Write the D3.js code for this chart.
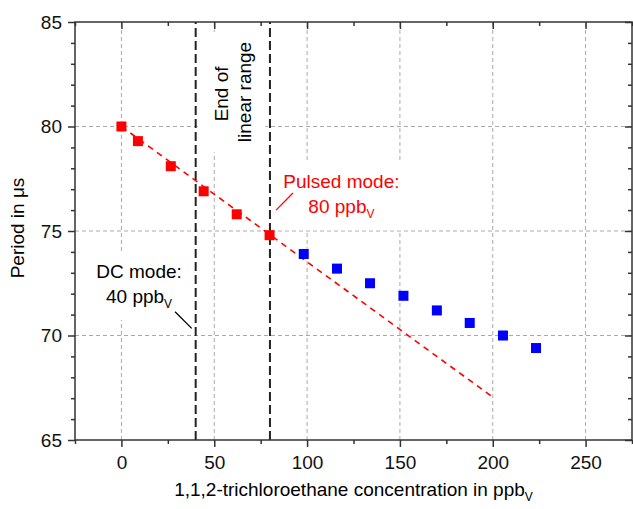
<!DOCTYPE html>
<html>
<head>
<meta charset="utf-8">
<script src="https://cdn.jsdelivr.net/npm/d3@7"></script>
<style>
  body { margin: 0; background: #fff; }
  svg text { font-family: "Liberation Sans", Arial, sans-serif; }
</style>
</head>
<body>
<svg width="633" height="509"></svg>
<script>
// data
pulsedX = [0, 8.9, 26.6, 44.3, 62.1, 79.8]
pulsedY = [80.0, 79.3, 78.1, 76.9, 75.8, 74.8]
satX = [98.2, 116.1, 133.9, 151.9, 169.9, 187.6, 205.5, 223.3]
satY = [73.9, 73.2, 72.5, 71.9, 71.2, 70.6, 70.0, 69.4]
fitX = [0, 200]
fitY = [80.0, 67.05]
limitX = [40, 80]
xTicks = [0, 50, 100, 150, 200, 250]
xMinor = [-25, 25, 75, 125, 175, 225, 275]
yTicks = [65, 70, 75, 80, 85]
yMinor = d3.range(65, 86, 1).filter(v => v % 5 != 0)

let svg = d3.select("svg")
let x = d3.scaleLinear().domain([-25, 275]).range([75, 632])
let y = d3.scaleLinear().domain([65, 85]).range([440, 22])
let font = 19, axisCol = '#333'

// grid
let grid = svg.append('g')
grid.selectAll('.gx').data(xTicks).enter().append('line')
    .attr('x1', d => x(d)).attr('x2', d => x(d)).attr('y1', y(65)).attr('y2', y(85))
grid.selectAll('.gy').data(yTicks.slice(1, -1)).enter().append('line')
    .attr('x1', x(-25)).attr('x2', x(275)).attr('y1', d => y(d)).attr('y2', d => y(d))
grid.selectAll('line').style('stroke', '#aaa').style('stroke-width', 1).style('stroke-dasharray', '4,3')

let boxes = svg.append('g')

// end of linear range markers
svg.selectAll('.limit').data(limitX).enter().append('line')
    .attr('x1', d => x(d)).attr('x2', d => x(d)).attr('y1', y(65)).attr('y2', y(85))
    .style('stroke', '#222').style('stroke-width', 2).style('stroke-dasharray', '9,4')

// linear fit
svg.append('path')
    .attr('d', d3.line().x(d => x(d[0])).y(d => y(d[1]))(d3.zip(fitX, fitY)))
    .style('fill', 'none').style('stroke', '#f00').style('stroke-width', 1.6).style('stroke-dasharray', '6,5')

let sq = 10
svg.selectAll('.pulsed').data(d3.zip(pulsedX, pulsedY)).enter().append('rect')
    .attr('x', d => x(d[0]) - sq / 2).attr('y', d => y(d[1]) - sq / 2)
    .attr('width', sq).attr('height', sq).style('fill', '#f00')
svg.selectAll('.sat').data(d3.zip(satX, satY)).enter().append('rect')
    .attr('x', d => x(d[0]) - sq / 2).attr('y', d => y(d[1]) - sq / 2)
    .attr('width', sq).attr('height', sq).style('fill', '#00f')

// annotations
function sub(t, main, s) {
    t.append('tspan').text(main)
    t.append('tspan').attr('dy', 5).attr('font-size', 12).text(s)
}
let notes = []

let endG = svg.append('g')
endG.append('text').attr('transform', `translate(${x(57.4)},${y(81.56)}) rotate(-90)`)
    .attr('text-anchor', 'middle').attr('font-size', font).text('End of')
endG.append('text').attr('transform', `translate(${x(70.06)},${y(81.65)}) rotate(-90)`)
    .attr('text-anchor', 'middle').attr('font-size', font).text('linear range')
notes.push([endG, 10])

let dcG = svg.append('g')
dcG.append('text').attr('x', x(9.5)).attr('y', y(72.75)).attr('text-anchor', 'middle')
    .attr('font-size', font).text('DC mode:')
sub(dcG.append('text').attr('x', x(9.5)).attr('y', y(72.75) + 25).attr('text-anchor', 'middle')
    .attr('font-size', font), '40 ppb', 'V')
notes.push([dcG, 9])

let puG = svg.append('g').style('fill', '#f00')
puG.append('text').attr('x', x(118.5)).attr('y', y(77.05)).attr('text-anchor', 'middle')
    .attr('font-size', font).text('Pulsed mode:')
sub(puG.append('text').attr('x', x(118.5)).attr('y', y(77.05) + 25).attr('text-anchor', 'middle')
    .attr('font-size', font), '80 ppb', 'V')
notes.push([puG, 9])

notes.forEach(([g, p]) => {
    let b = g.node().getBBox()
    boxes.append('rect').attr('x', b.x - p).attr('y', b.y - p)
        .attr('width', b.width + 2 * p).attr('height', b.height + 2 * p).style('fill', '#fff')
})

svg.append('line').attr('x1', x(28.9)).attr('y1', y(71.14)).attr('x2', x(37.85)).attr('y2', y(70.34))
    .style('stroke', '#000').style('stroke-width', 1.3)
svg.append('line').attr('x1', x(83.3)).attr('y1', y(76.0)).attr('x2', x(92.4)).attr('y2', y(76.82))
    .style('stroke', '#f00').style('stroke-width', 1.3)

// axes
function styleAxis(g) {
    g.select('.domain').remove()
    g.selectAll('line').style('stroke', axisCol).style('stroke-width', 1.5)
    g.selectAll('text').attr('font-size', font).style('fill', '#111')
}
svg.append('g').attr('transform', `translate(0,${y(65)})`)
    .call(d3.axisBottom(x).tickValues(xTicks).tickSize(7).tickPadding(9)).call(styleAxis)
svg.append('g').attr('transform', `translate(0,${y(65)})`)
    .call(d3.axisBottom(x).tickValues(xMinor).tickSize(4).tickFormat('')).call(styleAxis)
svg.append('g').attr('transform', `translate(0,${y(85)})`)
    .call(d3.axisTop(x).tickValues(xTicks).tickSize(-7).tickFormat('')).call(styleAxis)
svg.append('g').attr('transform', `translate(0,${y(85)})`)
    .call(d3.axisTop(x).tickValues(xMinor).tickSize(-4).tickFormat('')).call(styleAxis)
svg.append('g').attr('transform', `translate(${x(-25)},0)`)
    .call(d3.axisLeft(y).tickValues(yTicks).tickSize(7).tickPadding(6)).call(styleAxis)
svg.append('g').attr('transform', `translate(${x(-25)},0)`)
    .call(d3.axisLeft(y).tickValues(yMinor).tickSize(4).tickFormat('')).call(styleAxis)
svg.append('g').attr('transform', `translate(${x(275)},0)`)
    .call(d3.axisRight(y).tickValues(yTicks).tickSize(-7).tickFormat('')).call(styleAxis)
svg.append('g').attr('transform', `translate(${x(275)},0)`)
    .call(d3.axisRight(y).tickValues(yMinor).tickSize(-4).tickFormat('')).call(styleAxis)

svg.append('rect').attr('x', x(-25)).attr('y', y(85))
    .attr('width', x(275) - x(-25)).attr('height', y(65) - y(85))
    .style('fill', 'none').style('stroke', axisCol).style('stroke-width', 1.5)

// axis titles
sub(svg.append('text').attr('x', (x(-25) + x(275)) / 2).attr('y', 496).attr('text-anchor', 'middle')
    .attr('font-size', font), '1,1,2-trichloroethane concentration in ppb', 'V')
svg.append('text').attr('transform', `translate(24,${(y(65) + y(85)) / 2 - 3}) rotate(-90)`)
    .attr('text-anchor', 'middle').attr('font-size', font).text('Period in μs')
</script>
</body>
</html>
